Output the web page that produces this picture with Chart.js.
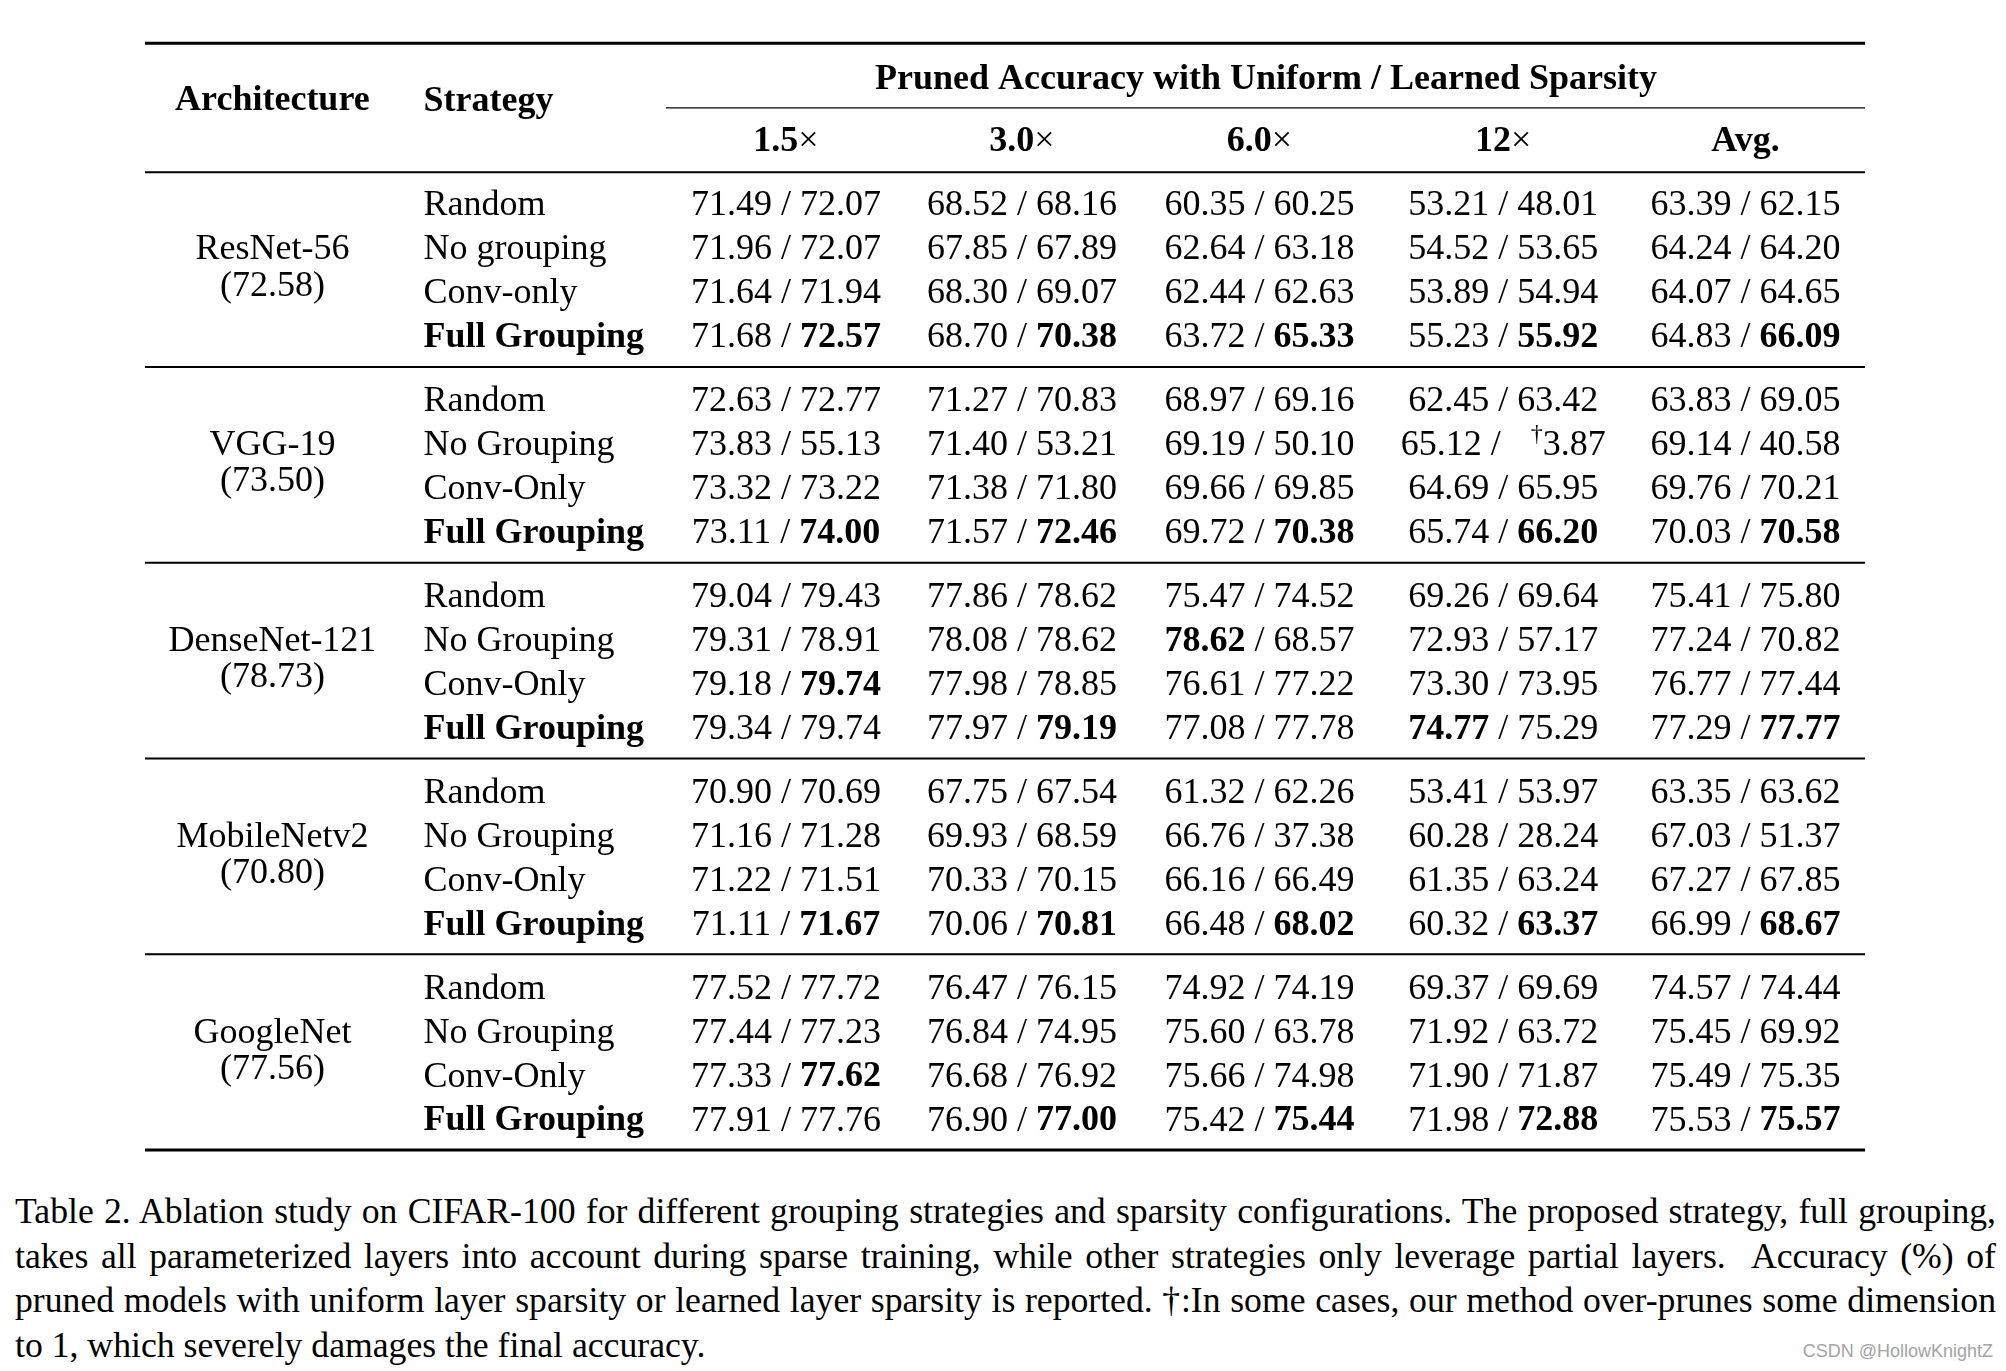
<!DOCTYPE html>
<html>
<head>
<meta charset="utf-8">
<script src="https://cdn.jsdelivr.net/npm/chart.js@4.4.1/dist/chart.umd.min.js"></script>
<style>
  html, body { margin: 0; padding: 0; background: #fff; }
  #wrap { position: absolute; left: 0; top: 0; width: 2006px; height: 1180px; }
  #caption { position: absolute; left: 15px; top: 1189px; width: 1981px;
    font-family: "Liberation Serif", serif; font-size: 35.7px; line-height: 44.5px; color: #000; }
  #caption div { text-align: justify; text-align-last: justify; white-space: nowrap; }
  #caption div.last { text-align-last: left; }
  #mark { position: absolute; right: 13px; top: 1341px; font-family: "Liberation Sans", sans-serif;
    font-size: 18px; color: #a3a3a3; }
</style>
</head>
<body>
<div id="wrap"><canvas id="js--chart--1"></canvas></div>
<div id="caption">
  <div>Table 2. Ablation study on CIFAR-100 for different grouping strategies and sparsity configurations. The proposed strategy, full grouping,</div>
  <div>takes all parameterized layers into account during sparse training, while other strategies only leverage partial layers. &nbsp;Accuracy (%) of</div>
  <div>pruned models with uniform layer sparsity or learned layer sparsity is reported. †:In some cases, our method over-prunes some dimension</div>
  <div class="last">to 1, which severely damages the final accuracy.</div>
</div>
<div id="mark">CSDN @HollowKnightZ</div>
<script>
const architectures = ["ResNet-56", "VGG-19", "DenseNet-121", "MobileNetv2", "GoogleNet"];
const baselines = ["(72.58)", "(73.50)", "(78.73)", "(70.80)", "(77.56)"];
const strategies = [
    ["Random", "No grouping", "Conv-only", "Full Grouping"],
    ["Random", "No Grouping", "Conv-Only", "Full Grouping"],
    ["Random", "No Grouping", "Conv-Only", "Full Grouping"],
    ["Random", "No Grouping", "Conv-Only", "Full Grouping"],
    ["Random", "No Grouping", "Conv-Only", "Full Grouping"],
];
const columns = [["1.5", "×"], ["3.0", "×"], ["6.0", "×"], ["12", "×"], ["Avg.", ""]];
const groupTitle = "Pruned Accuracy with Uniform / Learned Sparsity";

// uniform sparsity accuracy, [arch][strategy][column]
const uniform = [
    [["71.49","68.52","60.35","53.21","63.39"], ["71.96","67.85","62.64","54.52","64.24"], ["71.64","68.30","62.44","53.89","64.07"], ["71.68","68.70","63.72","55.23","64.83"]],
    [["72.63","71.27","68.97","62.45","63.83"], ["73.83","71.40","69.19","65.12","69.14"], ["73.32","71.38","69.66","64.69","69.76"], ["73.11","71.57","69.72","65.74","70.03"]],
    [["79.04","77.86","75.47","69.26","75.41"], ["79.31","78.08","78.62","72.93","77.24"], ["79.18","77.98","76.61","73.30","76.77"], ["79.34","77.97","77.08","74.77","77.29"]],
    [["70.90","67.75","61.32","53.41","63.35"], ["71.16","69.93","66.76","60.28","67.03"], ["71.22","70.33","66.16","61.35","67.27"], ["71.11","70.06","66.48","60.32","66.99"]],
    [["77.52","76.47","74.92","69.37","74.57"], ["77.44","76.84","75.60","71.92","75.45"], ["77.33","76.68","75.66","71.90","75.49"], ["77.91","76.90","75.42","71.98","75.53"]],
];
// learned sparsity accuracy
const learned = [
    [["72.07","68.16","60.25","48.01","62.15"], ["72.07","67.89","63.18","53.65","64.20"], ["71.94","69.07","62.63","54.94","64.65"], ["72.57","70.38","65.33","55.92","66.09"]],
    [["72.77","70.83","69.16","63.42","69.05"], ["55.13","53.21","50.10","†3.87","40.58"], ["73.22","71.80","69.85","65.95","70.21"], ["74.00","72.46","70.38","66.20","70.58"]],
    [["79.43","78.62","74.52","69.64","75.80"], ["78.91","78.62","68.57","57.17","70.82"], ["79.74","78.85","77.22","73.95","77.44"], ["79.74","79.19","77.78","75.29","77.77"]],
    [["70.69","67.54","62.26","53.97","63.62"], ["71.28","68.59","37.38","28.24","51.37"], ["71.51","70.15","66.49","63.24","67.85"], ["71.67","70.81","68.02","63.37","68.67"]],
    [["77.72","76.15","74.19","69.69","74.44"], ["77.23","74.95","63.78","63.72","69.92"], ["77.62","76.92","74.98","71.87","75.35"], ["77.76","77.00","75.44","72.88","75.57"]],
];
// which half is bold: "U" uniform, "L" learned, "" none
const bold = [
    [["","","","",""], ["","","","",""], ["","","","",""], ["L","L","L","L","L"]],
    [["","","","",""], ["","","","",""], ["","","","",""], ["L","L","L","L","L"]],
    [["","","","",""], ["","","U","",""], ["L","","","",""], ["","L","","U","L"]],
    [["","","","",""], ["","","","",""], ["","","","",""], ["L","L","L","L","L"]],
    [["","","","",""], ["","","","",""], ["L","","","",""], ["","L","L","L","L"]],
];

// layout (scale units: 1 x-unit = one data column, 1 y-unit = one table row)
const COL_X = [0, 0.983, 1.973, 2.988, 3.998];
const ARCH_X = -2.14, STRAT_X = -1.51, LEFT_X = -2.671, RIGHT_X = 4.496, SPAN_X = -0.5;
const GROUP_H = 4.45;
const FONT = '"Liberation Serif", "Times New Roman", serif';
const SIZE = 36;
const TEXT_DY = 3;

function rowY(g, r) { return g * GROUP_H + r; }

const cellPts = [], stratPts = [], archPts = [], headPts = [];
architectures.forEach(function (name, g) {
    archPts.push({ x: ARCH_X, y: rowY(g, 1), runs: [{ t: name }] });
    archPts.push({ x: ARCH_X, y: rowY(g, 1.82), runs: [{ t: baselines[g] }] });
    strategies[g].forEach(function (s, r) {
        stratPts.push({ x: STRAT_X, y: rowY(g, r), align: "left", runs: [{ t: s, b: r === 3 }] });
        for (let c = 0; c < columns.length; c++) {
            const u = uniform[g][r][c], l = learned[g][r][c], b = bold[g][r][c];
            let runs = [{ t: u, b: b === "U" }, { t: " / " }];
            if (l.charAt(0) === "†") {
                runs.push({ gap: 21 }, { t: "†", sup: true }, { t: l.slice(1), b: b === "L" });
            } else {
                runs.push({ t: l, b: b === "L" });
            }
            cellPts.push({ x: COL_X[c], y: rowY(g, r), runs: runs });
        }
    });
});
columns.forEach(function (col, c) {
    headPts.push({ x: COL_X[c], y: -1.46, runs: [{ t: col[0], b: true }, { t: col[1] }] });
});
headPts.push({ x: 2.0, y: -2.88, runs: [{ t: groupTitle, b: true }] });
headPts.push({ x: ARCH_X, y: -2.4, runs: [{ t: "Architecture", b: true }] });
headPts.push({ x: STRAT_X, y: -2.37, align: "left", runs: [{ t: "Strategy", b: true }] });

// horizontal rules
function rule(y, x0, w) {
    return { type: "line", data: [{ x: x0, y: y }, { x: RIGHT_X, y: y }], showLine: true,
        borderColor: "#000", borderWidth: w, pointRadius: 0, isRule: true };
}
const ruleSets = [rule(-3.63, LEFT_X, 3), rule(-2.16, SPAN_X, 1.3), rule(-0.7, LEFT_X, 2)];
for (let g = 0; g < architectures.length - 1; g++) {
    ruleSets.push(rule(rowY(g, 3.725), LEFT_X, 2));
}
ruleSets.push(rule(rowY(architectures.length - 1, 3.725), LEFT_X, 3));

function textSet(label, pts) {
    return { label: label, data: pts, pointRadius: 0, pointHoverRadius: 0, isText: true };
}

function runFont(run) {
    if (run.sup) return Math.round(SIZE * 0.68) + "px " + FONT;
    return (run.b ? "bold " : "") + SIZE + "px " + FONT;
}

const tablePlugin = {
    id: "tableText",
    afterDatasetsDraw(chart) {
        const ctx = chart.ctx;
        ctx.save();
        ctx.fillStyle = "#000";
        ctx.textBaseline = "middle";
        ctx.textAlign = "left";
        chart.data.datasets.forEach(function (ds, i) {
            if (!ds.isText) return;
            const meta = chart.getDatasetMeta(i);
            meta.data.forEach(function (el, j) {
                const p = ds.data[j];
                let widths = p.runs.map(function (run) {
                    if (run.gap) return run.gap;
                    ctx.font = runFont(run);
                    return ctx.measureText(run.t).width;
                });
                const total = widths.reduce(function (a, b) { return a + b; }, 0);
                let x = p.align === "left" ? el.x : el.x - total / 2;
                const y = el.y + TEXT_DY;
                p.runs.forEach(function (run, k) {
                    if (!run.gap) {
                        ctx.font = runFont(run);
                        ctx.fillText(run.t, x, run.sup ? y - SIZE * 0.3 : y);
                    }
                    x += widths[k];
                });
            });
        });
        ctx.restore();
    }
};

const config = {
    type: "scatter",
    data: {
        datasets: ruleSets.concat([
            textSet("headers", headPts),
            textSet("architectures", archPts),
            textSet("strategies", stratPts),
            textSet("cells", cellPts),
        ])
    },
    options: {
        responsive: true,
        maintainAspectRatio: false,
        animation: false,
        events: [],
        layout: { padding: 0 },
        plugins: { legend: { display: false }, tooltip: { enabled: false } },
        scales: {
            x: { type: "linear", min: -3.275, max: 5.0833, display: false },
            y: { type: "linear", min: -4.6136, max: 22.205, reverse: true, display: false }
        }
    },
    plugins: [tablePlugin]
};

new Chart(document.getElementById("js--chart--1"), config);
</script>
</body>
</html>
